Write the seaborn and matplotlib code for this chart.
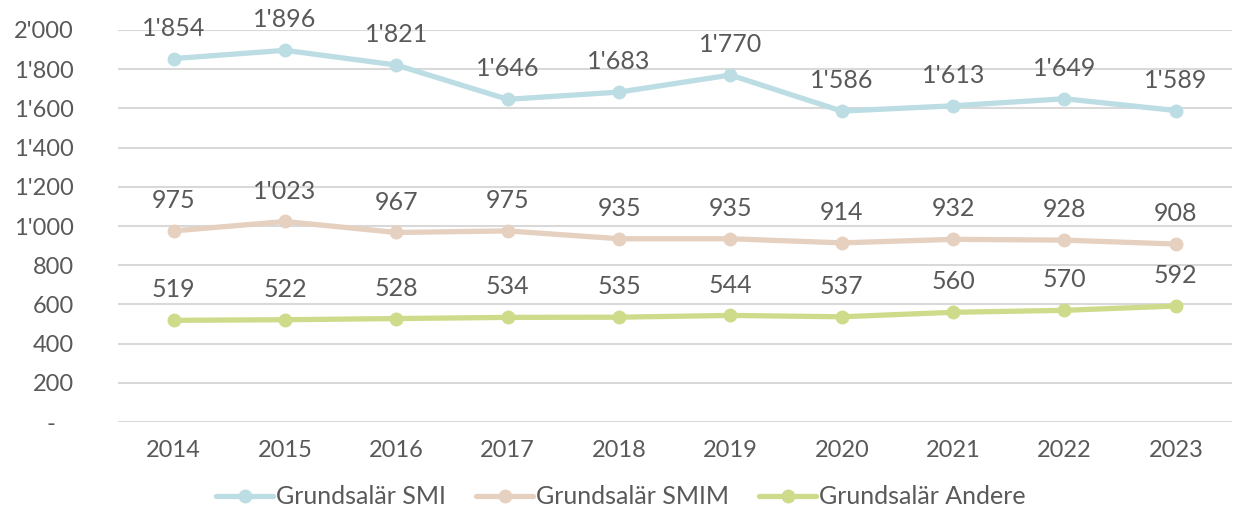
import matplotlib
matplotlib.use("Agg")
import matplotlib.pyplot as plt
import seaborn as sns
import pandas as pd
from matplotlib.ticker import FuncFormatter

years = ["2014", "2015", "2016", "2017", "2018", "2019", "2020", "2021", "2022", "2023"]
smi = [1854, 1896, 1821, 1646, 1683, 1770, 1586, 1613, 1649, 1589]
smim = [975, 1023, 967, 975, 935, 935, 914, 932, 928, 908]
andere = [519, 522, 528, 534, 535, 544, 537, 560, 570, 592]
series_names = ["Grundsalär SMI", "Grundsalär SMIM", "Grundsalär Andere"]
colors = ["#BCDDE3", "#E6D0C0", "#CEDB8A"]

sns.set_theme(style="white")
plt.rcParams['font.family'] = ['Lato', 'DejaVu Sans']

rows = []
for name, vals in zip(series_names, [smi, smim, andere]):
    for i, (y, v) in enumerate(zip(years, vals)):
        rows.append({"year": y, "x": i, "value": v, "series": name})
df = pd.DataFrame(rows)

def fmt(v):
    if v == 0:
        return "-   "
    return f"{int(v):,}".replace(",", "'")

fig = plt.figure(figsize=(12.34, 5.16), dpi=100)
ax = fig.add_axes([0.0956, 0.182, 0.9024, 0.76])

sns.lineplot(data=df, x="x", y="value", hue="series", hue_order=series_names,
             palette=colors, marker="o", markersize=10, markeredgewidth=0,
             linewidth=3.8, ax=ax, legend=True, zorder=3)

for name, vals in zip(series_names, [smi, smim, andere]):
    for i, v in enumerate(vals):
        ax.annotate(fmt(v), (i, v), xytext=(0, 16.5), textcoords="offset points",
                    ha="center", va="baseline", fontsize=18, color="#595959",
                    annotation_clip=False)

ax.set_xlim(-0.5, len(years) - 0.5)
ax.set_ylim(0, 2000)
ax.set_yticks(range(0, 2001, 200))
ax.yaxis.set_major_formatter(FuncFormatter(lambda v, p: fmt(v)))
ax.set_xticks(range(len(years)))
ax.set_xticklabels(years)
ax.tick_params(axis="both", labelsize=17, labelcolor="#595959", length=0)
ax.tick_params(axis="x", pad=13)
ax.tick_params(axis="y", pad=32)
ax.grid(axis="y", color="#D9D9D9", linewidth=1.5)
ax.set_axisbelow(True)
for s in ax.spines.values():
    s.set_visible(False)
ax.set_xlabel("")
ax.set_ylabel("")

handles, labels = ax.get_legend_handles_labels()
ax.legend(handles, labels, loc="center", bbox_to_anchor=(0.503, 0.037),
          bbox_transform=fig.transFigure,
          ncol=3, frameon=False, fontsize=18, labelcolor="#595959",
          handlelength=2.3, handletextpad=0.1, columnspacing=1.2)

fig.savefig("out.png", dpi=100)
